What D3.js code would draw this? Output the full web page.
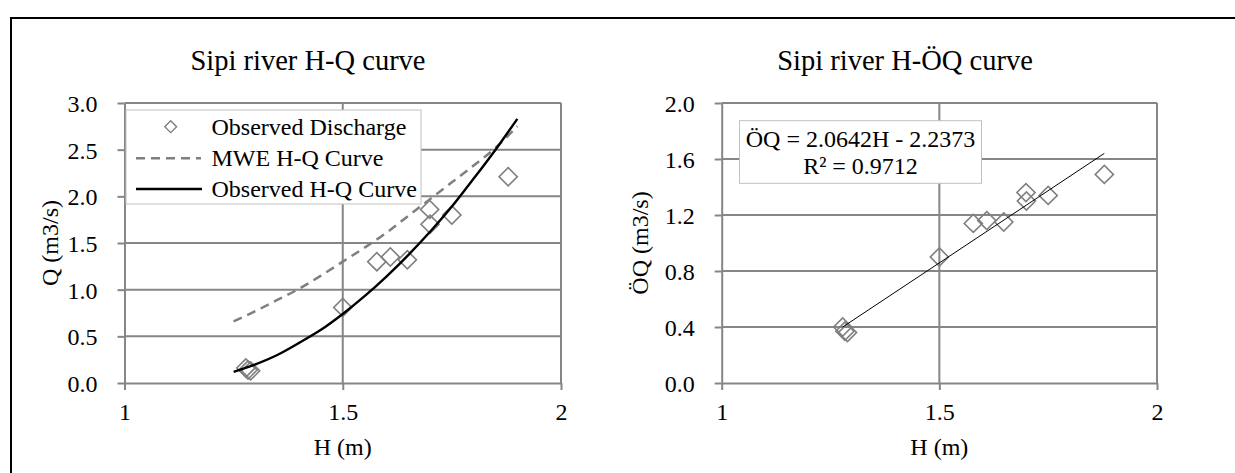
<!DOCTYPE html>
<html>
<head>
<meta charset="utf-8">
<script src="https://cdn.jsdelivr.net/npm/d3@7"></script>
<style>
  body { margin: 0; background: #fff; }
  svg { display: block; }
  text { font-family: "Liberation Serif", "Times New Roman", Times, serif; fill: #000; }
</style>
</head>
<body>
<svg id="chart" width="1235" height="473"></svg>
<script>
// ---------------- data ----------------
const obsH      = [1.278, 1.283, 1.289, 1.50, 1.578, 1.609, 1.648, 1.699, 1.700, 1.750, 1.879];
const obsQ      = [0.16, 0.14, 0.13, 0.81, 1.30, 1.35, 1.32, 1.86, 1.70, 1.80, 2.21];
const obsSqrtQ  = [0.40, 0.37, 0.36, 0.90, 1.14, 1.16, 1.15, 1.36, 1.30, 1.34, 1.49];

const curveH    = [1.25, 1.30, 1.35, 1.40, 1.45, 1.50, 1.55, 1.60, 1.65, 1.70, 1.75, 1.80, 1.85, 1.90];
const mweQ      = [0.66, 0.77, 0.89, 1.01, 1.15, 1.30, 1.45, 1.61, 1.79, 1.97, 2.15, 2.33, 2.52, 2.75];
const fitQ      = [0.12, 0.20, 0.30, 0.43, 0.57, 0.74, 0.93, 1.14, 1.37, 1.62, 1.89, 2.19, 2.50, 2.83];

const trendH     = [1.278, 1.879];
const trendSqrtQ = [0.40, 1.64];

const xTicks      = [1, 1.5, 2];
const yTicksLeft  = [0, 0.5, 1.0, 1.5, 2.0, 2.5, 3.0];
const yTicksRight = [0, 0.4, 0.8, 1.2, 1.6, 2.0];

const legendLabels = ["Observed Discharge", "MWE H-Q Curve", "Observed H-Q Curve"];
const titleLeft  = "Sipi river H-Q curve";
const titleRight = "Sipi river H-ÖQ curve";
const eqLines    = ["ÖQ = 2.0642H - 2.2373", "R² = 0.9712"];

// ---------------- drawing ----------------
const svg = d3.select("#chart");
const GRID = "#868686";
const MARK = "#7f7f7f";

// outer frame (top and left edges)
svg.append("path")
  .attr("d", "M11,473 L11,18 L1235,18")
  .attr("fill", "none").attr("stroke", "#000").attr("stroke-width", 2);

function panel(opt) {
  const x = d3.scaleLinear().domain([1, 2]).range([opt.x0, opt.x1]);
  const y = d3.scaleLinear().domain([0, opt.ymax]).range([383, 103]);
  const g = svg.append("g");

  // horizontal gridlines
  g.append("g").selectAll("line").data(opt.yTicks.filter(d => d > 0)).join("line")
    .attr("x1", x(1)).attr("x2", x(2))
    .attr("y1", d => y(d)).attr("y2", d => y(d))
    .attr("stroke", GRID).attr("stroke-width", 2);
  // vertical gridlines
  g.append("g").selectAll("line").data(xTicks.filter(d => d > 1)).join("line")
    .attr("x1", d => x(d)).attr("x2", d => x(d))
    .attr("y1", y(0)).attr("y2", y(opt.ymax))
    .attr("stroke", GRID).attr("stroke-width", 2);

  // y axis
  const ya = g.append("g").attr("transform", `translate(${x(1)},0)`)
    .call(d3.axisLeft(y).tickValues(opt.yTicks).tickSize(7).tickSizeOuter(0).tickPadding(20)
      .tickFormat(d => d.toFixed(1)));
  // x axis
  const xa = g.append("g").attr("transform", `translate(0,${y(0)})`)
    .call(d3.axisBottom(x).tickValues(xTicks).tickSize(7).tickSizeOuter(0).tickPadding(13)
      .tickFormat(d => String(d)));
  [ya, xa].forEach(a => {
    a.attr("font-family", null).attr("font-size", null);
    a.selectAll(".domain").attr("stroke", GRID).attr("stroke-width", 2);
    a.selectAll(".tick line").attr("stroke", GRID).attr("stroke-width", 2);
    a.selectAll(".tick text").style("font-size", "24px").attr("fill", "#000");
  });
  ya.selectAll(".tick text").attr("dy", "0.36em");

  // titles
  g.append("text").attr("x", opt.titleX).attr("y", 70).attr("text-anchor", "middle")
    .style("font-size", "28.5px").text(opt.title);
  g.append("text").attr("x", (x(1) + x(2)) / 2).attr("y", 455).attr("text-anchor", "middle")
    .style("font-size", "24px").text("H (m)");
  g.append("text").attr("transform", `translate(${opt.ylabX},${(y(0) + y(opt.ymax)) / 2}) rotate(-90)`)
    .attr("text-anchor", "middle").style("font-size", "24px").text(opt.ylab);

  return { g, x, y };
}

const diamond = (size) => d3.symbol(d3.symbolSquare, size);

// ---- left panel ----
const L = panel({ x0: 124.5, x1: 561, ymax: 3, yTicks: yTicksLeft, titleX: 308, title: titleLeft,
  ylabX: 58, ylab: "Q (m3/s)" });

L.g.append("g").selectAll("path").data(obsH).join("path")
  .attr("transform", (d, i) => `translate(${L.x(d)},${L.y(obsQ[i])}) rotate(45)`)
  .attr("d", diamond(165)).attr("fill", "none").attr("stroke", MARK).attr("stroke-width", 1.6);

const lineL = d3.line().curve(d3.curveMonotoneX);
L.g.append("path")
  .attr("d", lineL(curveH.map((h, i) => [L.x(h), L.y(mweQ[i])])))
  .attr("fill", "none").attr("stroke", MARK).attr("stroke-width", 2.5).attr("stroke-dasharray", "9,6");
L.g.append("path")
  .attr("d", lineL(curveH.map((h, i) => [L.x(h), L.y(fitQ[i])])))
  .attr("fill", "none").attr("stroke", "#000").attr("stroke-width", 2.4);

// legend
const lg = L.g.append("g");
lg.append("rect").attr("x", 126).attr("y", 110).attr("width", 295).attr("height", 94)
  .attr("fill", "#fff").attr("stroke", "#c0c0c0").attr("stroke-width", 1);
const rowY = [126.7, 158.3, 189];
lg.append("path").attr("transform", `translate(170.7,${rowY[0]}) rotate(45)`)
  .attr("d", diamond(70)).attr("fill", "none").attr("stroke", MARK).attr("stroke-width", 1.4);
lg.append("line").attr("x1", 136).attr("x2", 201).attr("y1", rowY[1]).attr("y2", rowY[1])
  .attr("stroke", MARK).attr("stroke-width", 2.5).attr("stroke-dasharray", "9,6");
lg.append("line").attr("x1", 136).attr("x2", 202).attr("y1", rowY[2]).attr("y2", rowY[2])
  .attr("stroke", "#000").attr("stroke-width", 2.4);
lg.selectAll("text").data(legendLabels).join("text")
  .attr("x", 211.5).attr("y", (d, i) => rowY[i] + 7.8)
  .style("font-size", "24px").text(d => d);

// ---- right panel ----
const R = panel({ x0: 721.7, x1: 1157, ymax: 2, yTicks: yTicksRight, titleX: 905, title: titleRight,
  ylabX: 648, ylab: "ÖQ (m3/s)" });

R.g.append("g").selectAll("path").data(obsH).join("path")
  .attr("transform", (d, i) => `translate(${R.x(d)},${R.y(obsSqrtQ[i])}) rotate(45)`)
  .attr("d", diamond(165)).attr("fill", "none").attr("stroke", MARK).attr("stroke-width", 1.6);

R.g.append("path")
  .attr("d", d3.line()(trendH.map((h, i) => [R.x(h), R.y(trendSqrtQ[i])])))
  .attr("fill", "none").attr("stroke", "#000").attr("stroke-width", 1);

// equation box
const eq = R.g.append("g");
eq.append("rect").attr("x", 739.5).attr("y", 120.7).attr("width", 242).attr("height", 62.6)
  .attr("fill", "#fff").attr("stroke", "#c0c0c0").attr("stroke-width", 1);
eq.selectAll("text").data(eqLines).join("text")
  .attr("x", 860.5).attr("y", (d, i) => [146.7, 174][i]).attr("text-anchor", "middle")
  .style("font-size", "24px").text(d => d);
</script>
</body>
</html>
